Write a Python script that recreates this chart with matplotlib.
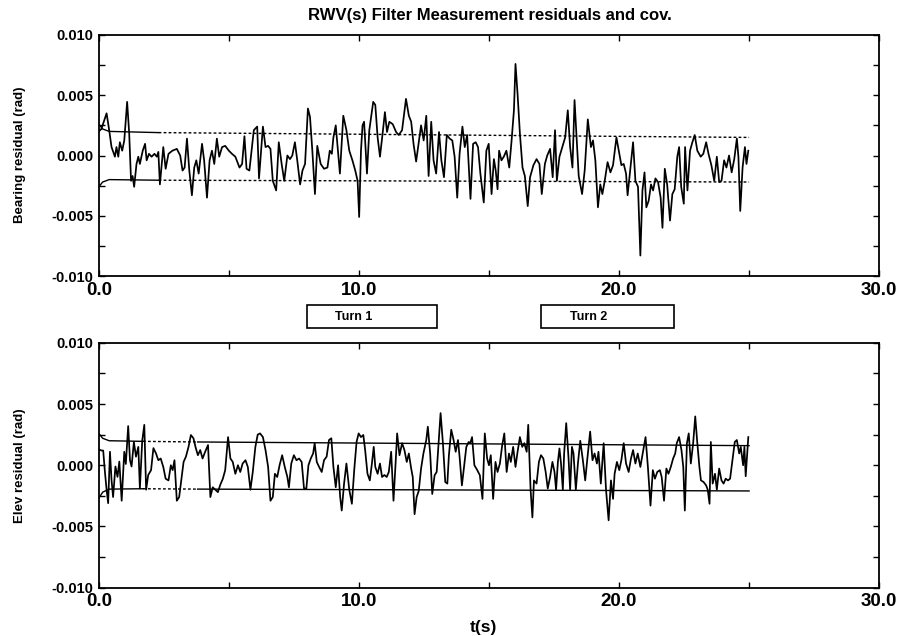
import numpy as np
import matplotlib
matplotlib.use("Agg")
import matplotlib.pyplot as plt
import matplotlib.transforms as mtransforms
from matplotlib.patches import Rectangle
from matplotlib.ticker import MultipleLocator, FuncFormatter

plt.rcParams['font.family'] = ['Liberation Sans', 'DejaVu Sans']
plt.rcParams['font.weight'] = 'bold'

# bearing residual (mrad)
t_bear = [0.0, 0.1, 0.3, 0.4, 0.49, 0.62, 0.68, 0.75, 0.81, 0.9, 0.98, 1.09, 1.17, 1.24, 1.3, 1.36,
          1.45, 1.52, 1.58, 1.69, 1.78, 1.84, 1.93, 2.03, 2.14, 2.23, 2.29, 2.35, 2.48, 2.57, 2.68,
          2.83, 3.0, 3.13, 3.22, 3.3, 3.39, 3.48, 3.58, 3.67, 3.75, 3.84, 3.97, 4.05, 4.16, 4.26,
          4.35, 4.44, 4.54, 4.63, 4.74, 4.86, 5.0, 5.12, 5.25, 5.41, 5.51, 5.6, 5.68, 5.79, 5.96,
          6.09, 6.16, 6.31, 6.41, 6.51, 6.6, 6.69, 6.82, 6.92, 7.03, 7.13, 7.25, 7.35, 7.44, 7.54,
          7.63, 7.74, 7.83, 7.93, 8.04, 8.12, 8.21, 8.31, 8.4, 8.53, 8.66, 8.79, 8.88, 8.96, 9.02,
          9.11, 9.17, 9.27, 9.4, 9.52, 9.63, 9.75, 9.86, 9.95, 10.01, 10.08, 10.14, 10.2, 10.31,
          10.4, 10.55, 10.63, 10.72, 10.81, 10.91, 11.0, 11.08, 11.17, 11.3, 11.43, 11.53, 11.66,
          11.81, 11.92, 12.01, 12.1, 12.2, 12.39, 12.49, 12.59, 12.68, 12.78, 12.87, 12.97, 13.08,
          13.17, 13.27, 13.38, 13.49, 13.59, 13.68, 13.78, 13.87, 13.98, 14.07, 14.16, 14.29, 14.39,
          14.49, 14.58, 14.67, 14.8, 14.9, 14.99, 15.1, 15.19, 15.26, 15.33, 15.39, 15.48, 15.57,
          15.67, 15.78, 15.87, 15.96, 16.02, 16.1, 16.19, 16.29, 16.38, 16.49, 16.58, 16.71, 16.83,
          16.94, 17.03, 17.15, 17.24, 17.35, 17.45, 17.54, 17.61, 17.71, 17.82, 17.93, 18.03, 18.12,
          18.21, 18.29, 18.45, 18.58, 18.68, 18.8, 18.92, 19.0, 19.09, 19.19, 19.28, 19.36, 19.45,
          19.56, 19.67, 19.77, 19.9, 19.99, 20.09, 20.18, 20.27, 20.33, 20.44, 20.54, 20.63, 20.73,
          20.82, 20.9, 20.98, 21.05, 21.14, 21.23, 21.31, 21.4, 21.5, 21.6, 21.67, 21.76, 21.85,
          21.96, 22.05, 22.14, 22.24, 22.31, 22.39, 22.49, 22.54, 22.63, 22.73, 22.82, 22.91, 23.01,
          23.14, 23.24, 23.35, 23.44, 23.55, 23.66, 23.76, 23.85, 23.94, 24.04, 24.13, 24.23, 24.33,
          24.43, 24.53, 24.59, 24.66, 24.75, 24.84, 24.9, 24.97]
bear_mrad = [2.0, 2.2, 3.5, 2.1, 0.7, -0.1, 0.7, -0.1, 1.1, 0.4, 1.25, 4.45, 1.8, -2.1, -1.7, -2.6,
             -0.7, -0.1, -0.7, 0.4, 0.97, -0.4, 0.14, -0.1, 0.14, -0.1, 0.3, -2.4, 0.7, -1.1, 0.14,
             0.4, 0.55, 0.0, -1.25, -1.0, 1.4, -1.25, -3.3, -1.0, -0.4, -1.5, 0.97, -0.4, -3.5, -0.4,
             0.4, -0.7, 1.4, -0.1, 0.7, 0.8, 0.4, 0.14, -0.1, -1.0, -0.7, 1.6, -1.1, -1.25, 2.1,
             2.4, -1.9, 2.4, 0.7, 0.8, 0.55, -2.1, -2.9, 1.1, -0.7, -2.1, 0.0, -0.3, 0.0, 1.1,
             -0.4, -2.4, -1.25, -0.7, 3.9, 3.2, 0.4, -3.2, 0.8, -0.7, -1.1, -1.0, 0.4, 0.14, 1.5,
             2.5, 0.97, -1.5, 3.3, 2.1, 0.4, -0.4, -1.25, -2.1, -5.1, 0.4, 2.5, 2.8, -1.5,
             2.1, 4.45, 4.2, 1.5, -0.1, 1.8, 3.6, 1.95, 2.8, 2.6, 1.95, 1.7, 2.1,
             4.7, 3.3, 2.8, 0.97, -0.5, 2.5, 1.25, 3.3, -1.7, 2.8, -0.4, -1.5, 1.95,
             -0.4, -1.8, 1.7, 1.4, 1.25, -0.1, -3.5, 0.14, 2.4, 0.7, 1.7, -3.6, 0.97,
             1.1, 0.7, -1.5, -3.9, 0.4, 0.97, -3.2, -0.3, -1.25, -2.8, 0.4, -0.4, -0.1,
             0.4, -1.0, 1.25, 3.75, 7.6, 5.1, 1.8, -1.0, -1.7, -4.2, -1.8, -0.8, -0.3,
             -0.7, -3.2, -0.7, 0.0, 0.55, -1.8, 2.1, -2.1, -0.1, 0.7, 1.5, 3.75, 0.7,
             -1.0, 4.6, -1.7, -3.2, -1.25, 3.0, 0.7, 1.25, -0.4, -4.3, -2.4, -3.2, -2.1,
             -0.55, -1.4, -0.8, 1.5, 0.4, -0.8, -0.7, -1.5, -3.3, -1.0, 1.1, -2.1, -2.6,
             -8.3, -2.9, -1.4, -4.3, -3.75, -2.4, -2.9, -1.9, -2.2, -3.5, -6.0, -1.1, -2.4,
             -5.4, -3.2, -2.8, -0.1, 0.7, -2.6, -4.0, 0.7, -2.9, 0.4, 1.1, 1.7, 0.4,
             -0.1, 0.14, 1.1, 0.14, -0.8, -2.1, -0.1, -2.2, -2.1, -0.4, -1.0, 0.0, -1.4,
             -0.3, 1.4, -0.1, -4.6, -1.0, 0.7, -0.7, 0.4]

# elevation residual (mrad)
t_elev = [0.0, 0.1, 0.17, 0.23, 0.3, 0.36, 0.43, 0.49, 0.55, 0.64, 0.72, 0.79, 0.88, 0.98, 1.04,
          1.13, 1.2, 1.26, 1.35, 1.43, 1.52, 1.58, 1.67, 1.75, 1.82, 1.9, 2.01, 2.1, 2.2, 2.29,
          2.38, 2.48, 2.57, 2.68, 2.77, 2.84, 2.91, 3.0, 3.09, 3.17, 3.26, 3.35, 3.45, 3.54, 3.64,
          3.73, 3.81, 3.9, 3.99, 4.09, 4.2, 4.29, 4.38, 4.48, 4.58, 4.67, 4.77, 4.86, 4.97, 5.06,
          5.15, 5.25, 5.35, 5.44, 5.53, 5.64, 5.73, 5.83, 5.92, 6.02, 6.11, 6.2, 6.31, 6.41, 6.51,
          6.6, 6.69, 6.77, 6.86, 6.95, 7.05, 7.15, 7.25, 7.31, 7.4, 7.5, 7.6, 7.7, 7.8, 7.89,
          7.98, 8.06, 8.15, 8.24, 8.3, 8.38, 8.47, 8.57, 8.66, 8.76, 8.85, 8.94, 9.02, 9.11, 9.2,
          9.28, 9.34, 9.43, 9.52, 9.63, 9.73, 9.82, 9.91, 9.99, 10.08, 10.17, 10.24, 10.33, 10.42,
          10.5, 10.57, 10.63, 10.72, 10.81, 10.89, 10.98, 11.07, 11.15, 11.24, 11.33, 11.41, 11.47,
          11.56, 11.66, 11.75, 11.84, 11.92, 12.01, 12.07, 12.14, 12.22, 12.3, 12.39, 12.48, 12.59,
          12.65, 12.74, 12.82, 12.91, 12.99, 13.07, 13.14, 13.23, 13.32, 13.4, 13.46, 13.55, 13.64,
          13.72, 13.81, 13.87, 13.96, 14.04, 14.13, 14.22, 14.28, 14.35, 14.44, 14.55, 14.65, 14.75,
          14.84, 14.93, 15.0, 15.07, 15.16, 15.25, 15.33, 15.42, 15.51, 15.59, 15.68, 15.77, 15.84,
          15.93, 16.02, 16.1, 16.19, 16.28, 16.36, 16.45, 16.51, 16.6, 16.67, 16.73, 16.83, 16.92,
          17.0, 17.09, 17.18, 17.26, 17.35, 17.44, 17.52, 17.58, 17.65, 17.71, 17.77, 17.84, 17.89,
          17.97, 18.06, 18.12, 18.19, 18.25, 18.34, 18.42, 18.51, 18.61, 18.7, 18.79, 18.89, 18.98,
          19.06, 19.15, 19.21, 19.3, 19.41, 19.5, 19.6, 19.69, 19.77, 19.83, 19.92, 20.01, 20.09,
          20.18, 20.27, 20.37, 20.46, 20.54, 20.63, 20.72, 20.82, 20.91, 21.02, 21.11, 21.21, 21.3,
          21.38, 21.47, 21.57, 21.64, 21.73, 21.82, 21.9, 21.99, 22.08, 22.16, 22.22, 22.31, 22.4,
          22.47, 22.53, 22.61, 22.68, 22.76, 22.85, 22.93, 23.0, 23.09, 23.15, 23.25, 23.35, 23.41,
          23.48, 23.53, 23.6, 23.69, 23.76, 23.85, 23.94, 24.02, 24.1, 24.19, 24.27, 24.36, 24.45,
          24.53, 24.62, 24.68, 24.77, 24.82, 24.87, 24.97]
elev_mrad = [1.3, 1.2, 1.2, -0.4, -2.0, -3.1, 1.1, -1.2, -2.6, -0.1, -0.95, 0.3, -2.9, 1.1, 0.1,
             3.2, 0.4, -0.1, 1.9, 0.7, 1.5, -1.9, 2.0, 3.3, -2.0, -0.8, -0.4, 1.4, 0.96, 0.41,
             0.55, -0.14, -1.1, -1.24, 0.0, -0.4, 0.41, -2.9, -2.6, -1.24, 0.27, 0.7, 1.5, 2.47, 2.2,
             1.4, 0.82, 1.24, 0.55, 1.1, 1.65, -2.6, -1.8, -2.0, -2.2, -1.6, -1.1, -0.4, 2.3, 0.55,
             0.27, -0.7, 0.0, -0.55, 0.14, 0.41, -0.14, -2.0, -0.55, 1.5, 2.5, 2.6, 2.3, 1.24, -0.14,
             -2.9, -2.6, -0.7, -0.96, 0.0, 0.82, -0.14, -0.96, -1.8, 0.14, 0.82, 0.41, 0.55, 0.27, -1.9,
             -1.9, 0.0, 0.55, 0.96, 1.8, 0.27, -0.14, -0.55, 0.41, 0.7, 2.06, 2.2, -0.14, -1.8, 0.0,
             -2.6, -3.7, -1.5, 0.14, -2.0, -3.15, -0.4, 1.9, 2.6, 2.3, 2.47, 1.24, -0.7, -1.24,
             0.14, 1.5, -0.14, -0.7, 0.14, -0.96, -0.8, -0.96, -0.55, 1.1, -2.9, 0.14, 2.6,
             0.82, 1.8, 1.24, 0.27, 0.96, -0.27, -0.96, -4.0, -2.6, -2.1, -0.27, 0.96, 2.06,
             3.15, 0.96, -2.35, -0.82, -0.55, 2.06, 4.26, 1.8, -1.37, -1.5, 0.82, 2.9, 2.06,
             1.1, 2.06, 0.7, -1.65, -0.14, 1.5, 1.9, 1.8, 2.3, 0.0, -0.4, -0.82, -2.75,
             2.6, 0.55, 0.0, 0.82, -2.75, 0.27, -0.55, 0.14, 1.65, 2.6, -0.55, 0.96, 0.27,
             1.5, -0.14, 1.1, 2.3, 1.5, 1.8, 1.1, 3.3, -2.0, -4.26, -1.24, -1.5, 0.27,
             0.82, 0.55, -0.55, -1.9, -0.96, 0.27, -0.55, -2.0, 0.27, 1.37, 0.14, -2.0, 0.96,
             3.44, 0.55, -2.0, 1.5, 0.96, -2.0, 0.14, 2.0, 0.41, -1.24, 0.7, 2.75, 0.41,
             0.96, 0.14, 1.1, -1.5, 1.8, -2.0, -4.5, -1.24, -2.75, -0.7, 0.27, -0.4, 0.41,
             1.8, 0.14, -0.55, 0.55, 1.24, 0.14, 0.96, -0.14, 0.96, 2.3, -0.14, -3.3, -0.4,
             -1.1, -0.55, -0.4, -0.96, -2.9, -0.27, -0.7, -0.14, 0.55, 0.96, 1.8, 2.3, 1.24,
             -0.14, -3.7, 1.8, 2.6, 0.14, 1.8, 3.99, 2.06, -0.14, -1.24, -1.37, -1.65, -2.0,
             -3.15, 1.9, -1.5, -0.7, -2.0, -0.27, -1.24, -1.5, -1.1, -1.24, -1.1, 0.41, 1.9,
             2.06, 0.96, 1.5, 0.0, 1.5, -0.9, 2.3]

# covariance bounds (mrad); solid up to index, then dotted
t_cov_bear = [0.0, 0.15, 0.4, 2.3, 25.0]
bear_up = [2.6, 2.2, 2.0, 1.9, 1.5]
bear_lo = [-2.6, -2.2, -2.0, -2.05, -2.2]

t_cov_elev = [0.0, 0.15, 0.4, 1.7, 3.8, 25.0]
elev_up = [2.6, 2.2, 2.0, 1.95, 1.9, 1.6]
elev_lo = [-2.7, -2.2, -1.95, -1.92, -1.95, -2.1]

# turn intervals (s)
turn_names = ["Turn 1", "Turn 2"]
turn_start = [8.0, 17.0]
turn_end = [13.0, 22.1]

fig = plt.figure(figsize=(8.98, 6.36), dpi=100)
ax1 = fig.add_axes([0.110, 0.566, 0.869, 0.379])
ax2 = fig.add_axes([0.110, 0.076, 0.869, 0.385])

dot = (0, (2.0, 1.6))
lw_data = 1.25


def style(ax):
    ax.set_xlim(0, 30)
    ax.set_ylim(-0.010, 0.010)
    ax.xaxis.set_major_locator(MultipleLocator(10))
    ax.xaxis.set_minor_locator(MultipleLocator(5))
    ax.yaxis.set_major_locator(MultipleLocator(0.005))
    ax.yaxis.set_minor_locator(MultipleLocator(0.0025))
    ax.xaxis.set_major_formatter(FuncFormatter(lambda v, p: "%.1f" % v))
    ax.yaxis.set_major_formatter(FuncFormatter(lambda v, p: "%.3f" % v))
    ax.tick_params(which='both', direction='in', top=True, right=True, length=4, width=1.0)
    ax.tick_params(axis='x', labelsize=13.5, pad=4)
    ax.tick_params(axis='y', labelsize=10.5, pad=4)
    for lab in ax.get_xticklabels() + ax.get_yticklabels():
        lab.set_fontweight('bold')
    for sp in ax.spines.values():
        sp.set_linewidth(1.3)


# upper panel
b = np.array(bear_mrad) * 1e-3
ax1.plot(t_bear, b, color='black', lw=lw_data)
tc = np.array(t_cov_bear)
up = np.array(bear_up) * 1e-3
lo = np.array(bear_lo) * 1e-3
ax1.plot(tc[:4], up[:4], color='black', lw=1.0)
ax1.plot(tc[:4], lo[:4], color='black', lw=1.0)
ax1.plot(tc[3:], up[3:], color='black', lw=1.0, ls=dot)
ax1.plot(tc[3:], lo[3:], color='black', lw=1.0, ls=dot)
style(ax1)

# lower panel
e = np.array(elev_mrad) * 1e-3
ax2.plot(t_elev, e, color='black', lw=lw_data)
tc = np.array(t_cov_elev)
up = np.array(elev_up) * 1e-3
lo = np.array(elev_lo) * 1e-3
ax2.plot(tc[:4], up[:4], color='black', lw=1.0)
ax2.plot(tc[:4], lo[:4], color='black', lw=1.0)
ax2.plot(tc[3:5], up[3:5], color='black', lw=1.0, ls=dot)
ax2.plot(tc[3:5], lo[3:5], color='black', lw=1.0, ls=dot)
ax2.plot(tc[4:], up[4:], color='black', lw=1.0)
ax2.plot(tc[4:], lo[4:], color='black', lw=1.0)
style(ax2)

# turn boxes between the panels
trans = mtransforms.blended_transform_factory(ax1.transData, fig.transFigure)
for name, s, f in zip(turn_names, turn_start, turn_end):
    ax1.add_patch(Rectangle((s, 0.484), f - s, 0.036, transform=trans, fill=False,
                            edgecolor='black', lw=1.2, clip_on=False))
    ax1.text(s + (f - s) * 0.36, 0.502, name, transform=trans, ha='center', va='center',
             fontsize=9, fontweight='bold')

fig.text(0.5454, 0.976, "RWV(s) Filter Measurement residuals and cov.",
         ha='center', va='center', fontsize=12, fontweight='bold')
fig.text(0.022, 0.756, "Bearing residual (rad)", rotation=90, ha='center', va='center',
         fontsize=9.5, fontweight='bold')
fig.text(0.022, 0.268, "Elev residual (rad)", rotation=90, ha='center', va='center',
         fontsize=9.5, fontweight='bold')
fig.text(0.538, 0.013, "t(s)", ha='center', va='center', fontsize=12.5, fontweight='bold')

fig.savefig("out.png", dpi=100)
